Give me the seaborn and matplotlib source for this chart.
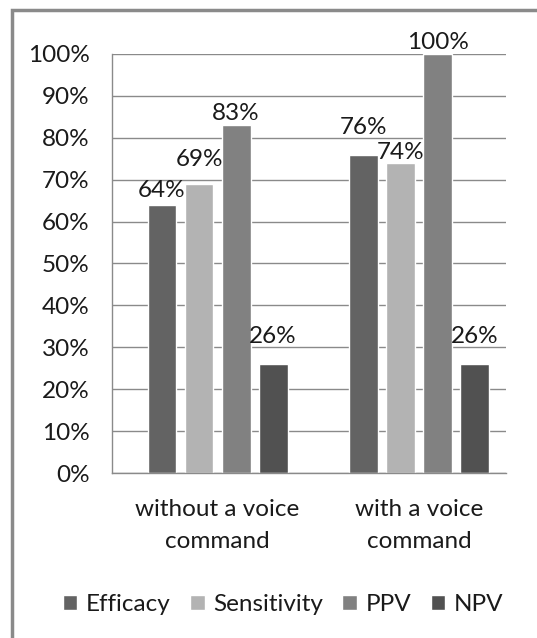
"""Grouped bar chart: detection metrics with and without a voice command."""

import matplotlib.pyplot as plt
import matplotlib.patches as mpatches
import pandas as pd
import seaborn as sns

# data
conditions = ["without a voice\ncommand", "with a voice\ncommand"]
metrics = ["Efficacy", "Sensitivity", "PPV", "NPV"]
efficacy = [64, 76]
sensitivity = [69, 74]
ppv = [83, 100]
npv = [26, 26]
tick_values = [0, 10, 20, 30, 40, 50, 60, 70, 80, 90, 100]

colors = ["#636363", "#b3b3b3", "#818181", "#515151"]
FS = 17.5
TXT = "#1a1a1a"

df = pd.DataFrame({
    "condition": conditions * 4,
    "metric": [m for m in metrics for _ in conditions],
    "value": efficacy + sensitivity + ppv + npv,
})

sns.set_style("white")
plt.rcParams["font.family"] = ["Lato", "DejaVu Sans"]

fig = plt.figure(figsize=(5.37, 6.38), dpi=100)
ax = fig.add_axes([0.2086, 0.2586, 0.7337, 0.6568])

sns.barplot(
    data=df, x="condition", y="value", hue="metric",
    hue_order=metrics, palette=colors, width=0.735, gap=0.22,
    saturation=1, ax=ax, legend=True,
)

# value labels, with per-bar padding the way the original places them
pads = [[3, 12], [10, 0], [1, 1], [12, 12]]
for cont, pad in zip(ax.containers, pads):
    for bar, p, v in zip(cont, pad, cont.datavalues):
        ax.annotate(f"{v:.0f}%", (bar.get_x() + bar.get_width() / 2, v),
                    xytext=(0, p), textcoords="offset points",
                    ha="center", va="bottom", fontsize=FS, color=TXT)

ax.set_ylim(0, 100)
ax.set_xlim(-0.524, 1.432)
ax.set_yticks(tick_values)
ax.set_yticklabels([f"{t}%" for t in tick_values], fontsize=FS, color=TXT)
ax.set_xticks(range(len(conditions)))
ax.set_xticklabels(conditions, fontsize=FS, color=TXT, linespacing=1.65)
ax.tick_params(axis="x", length=0, pad=19)
ax.tick_params(axis="y", length=0, pad=16)
ax.set_xlabel("")
ax.set_ylabel("")
ax.yaxis.grid(True, color="#8a8a8a", linewidth=1)
ax.set_axisbelow(True)
for side in ["top", "right"]:
    ax.spines[side].set_visible(False)
for side in ["left", "bottom"]:
    ax.spines[side].set_color("#8a8a8a")
    ax.spines[side].set_linewidth(1)

handles, labels = ax.get_legend_handles_labels()
ax.get_legend().remove()
fig.legend(handles, labels, loc="center", bbox_to_anchor=(0.527, 0.052),
           ncol=4, frameon=False, fontsize=FS, handlelength=0.6,
           handleheight=0.6, handletextpad=0.35, columnspacing=0.8,
           labelcolor=TXT)

# outer chart frame (right and bottom edges fall outside the image)
fig.patches.append(mpatches.Rectangle(
    (0.022, -0.1), 1.2, 1.084, transform=fig.transFigure,
    fill=False, edgecolor="#8a8a8a", linewidth=2.5))

fig.savefig("out.png", dpi=100)
